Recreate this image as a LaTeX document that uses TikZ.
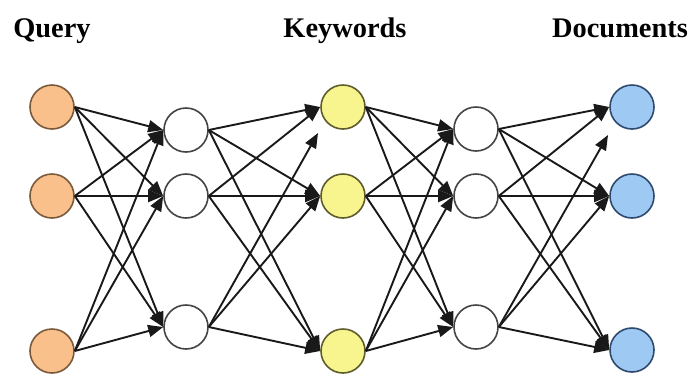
\documentclass[tikz,border=0pt]{standalone}
\usepackage{fontspec}
\setmainfont{Liberation Serif}
\usetikzlibrary{arrows.meta}
\definecolor{qfill}{HTML}{F9C08C}
\definecolor{qdraw}{HTML}{7A5A3A}
\definecolor{kfill}{HTML}{F8F48E}
\definecolor{kdraw}{HTML}{5E5C2A}
\definecolor{dfill}{HTML}{9DC9F3}
\definecolor{ddraw}{HTML}{2E4A6E}
\definecolor{hdraw}{HTML}{444444}
\tikzset{
  neuron/.style={circle, minimum size=44bp, inner sep=0pt, line width=1.6bp},
  qnode/.style={neuron, fill=qfill, draw=qdraw},
  knode/.style={neuron, fill=kfill, draw=kdraw},
  dnode/.style={neuron, fill=dfill, draw=ddraw},
  hnode/.style={neuron, fill=white, draw=hdraw},
  conn/.style={line width=1.9bp, draw=black!90, -{Triangle[length=15bp,width=12bp]}},
  title/.style={font=\fontsize{28.5}{30}\selectfont\bfseries, anchor=base, inner sep=0pt}
}
\begin{document}
\begin{tikzpicture}[x=1bp,y=-1bp]
\useasboundingbox (0,0) rectangle (695,376);
% titles
\node[title] (tq) at (52,37) {Query};
\node[title] (tk) at (345,37) {Keywords};
\node[title] (td) at (620,37) {Documents};
% nodes
\node[qnode] (q1) at (52,107) {};
\node[qnode] (q2) at (52,196) {};
\node[qnode] (q3) at (52,351) {};
\node[hnode] (a1) at (186,130) {};
\node[hnode] (a2) at (186,196) {};
\node[hnode] (a3) at (186,327) {};
\node[knode] (k1) at (343,107) {};
\node[knode] (k2) at (343,196) {};
\node[knode] (k3) at (343,351) {};
\node[hnode] (b1) at (476,129) {};
\node[hnode] (b2) at (476,196) {};
\node[hnode] (b3) at (476,327) {};
\node[dnode] (d1) at (632,107) {};
\node[dnode] (d2) at (632,196) {};
\node[dnode] (d3) at (632,350) {};
\coordinate (ks) at (318,133);
\coordinate (ds) at (608,135);
% connectors
\foreach \i in {1,2,3}{
  \foreach \j in {1,2,3}{
    \draw[conn] (q\i.east) -- (a\j.west);
    \draw[conn] (k\i.east) -- (b\j.west);
  }
}
\foreach \i/\j in {1/1,1/2,1/3,2/1,2/2,2/3,3/2,3/3}{
  \draw[conn] (a\i.east) -- (k\j.west);
  \draw[conn] (b\i.east) -- (d\j.west);
}
\draw[conn] (a3.east) -- (ks);
\draw[conn] (b3.east) -- (ds);
\end{tikzpicture}
\end{document}
